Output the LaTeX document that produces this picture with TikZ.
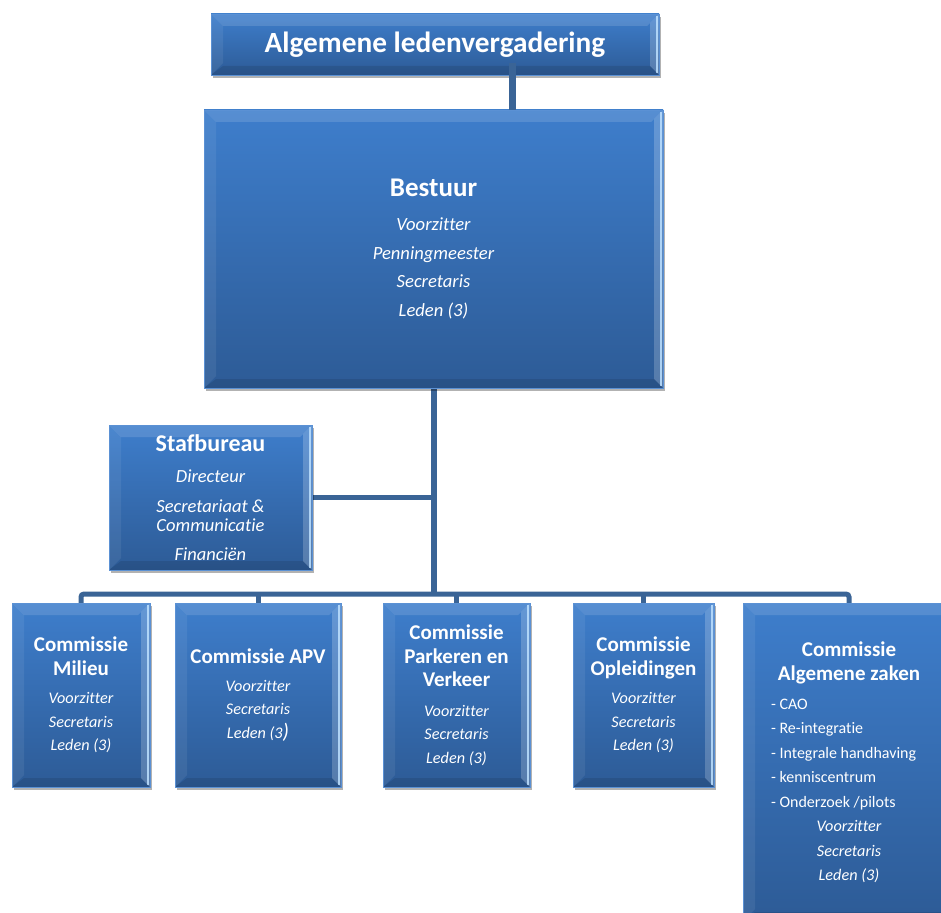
\documentclass[tikz,border=0pt]{standalone}
\usepackage{fontspec}
\setmainfont{Carlito}[Ligatures={NoCommon}]
\usetikzlibrary{shadows,calc,backgrounds}
\definecolor{boxtop}{RGB}{62,126,204}
\definecolor{boxbot}{RGB}{45,91,150}
\definecolor{conncol}{RGB}{58,100,150}
\definecolor{edgelight}{RGB}{190,225,255}
\tikzset{
  bevel/.style={path picture={
    \coordinate (q1) at (path picture bounding box.north west);
    \coordinate (q2) at (path picture bounding box.north east);
    \coordinate (q3) at (path picture bounding box.south east);
    \coordinate (q4) at (path picture bounding box.south west);
    \fill[white,opacity=0.13] (q1) -- (q2) -- ([shift={(-12pt,-12pt)}]q2) -- ([shift={(12pt,-12pt)}]q1) -- cycle;
    \fill[white,opacity=0.07] (q1) -- ([shift={(12pt,-12pt)}]q1) -- ([shift={(12pt,12pt)}]q4) -- (q4) -- cycle;
    \fill[white,opacity=0.2] (q2) -- (q3) -- ([shift={(-9pt,9pt)}]q3) -- ([shift={(-9pt,-9pt)}]q2) -- cycle;
    \fill[edgelight,opacity=0.85] ([xshift=-3.5pt,yshift=-2pt]q2) rectangle ([xshift=-1.2pt,yshift=2pt]q3);
    \fill[black,opacity=0.1] (q4) -- (q3) -- ([shift={(-9pt,9pt)}]q3) -- ([shift={(12pt,9pt)}]q4) -- cycle;
  }},
  orgbox/.style={rectangle, inner sep=0pt, align=center, text=white,
    top color=boxtop, bottom color=boxbot, draw=boxtop!85!white, line width=0.5pt,
    drop shadow={shadow xshift=2pt, shadow yshift=-3pt, opacity=0.3, fill=black},
    bevel},
  combox/.style={orgbox, minimum height=184pt, font=\fontsize{16.2}{23.5}\selectfont\itshape},
  connline/.style={draw=conncol, line width=5pt},
}
\newcommand{\hdA}[1]{{\fontsize{21}{24}\selectfont\bfseries\upshape #1}}
\begin{document}
\begin{tikzpicture}[x=1pt,y=-1pt]
\useasboundingbox (0,0) rectangle (941,912);

\coordinate (bus) at (0,594);
\coordinate (tx) at (512,0);

% ---------- nodes
\node[orgbox, minimum width=448pt, minimum height=61pt] (alv) at (435,44.5)
  {\fontsize{29.3}{30}\selectfont\bfseries Algemene ledenvergadering};

\node[orgbox, minimum width=459pt, minimum height=278pt, font=\fontsize{18.6}{28.5}\selectfont\itshape] (bestuur) at (433.5,249)
  {{\fontsize{27}{30}\selectfont\bfseries\upshape Bestuur}\\[6pt]
   Voorzitter\\ Penningmeester\\ Secretaris\\ Leden (3)};

\node[orgbox, minimum width=203pt, minimum height=145pt, font=\fontsize{18.5}{19.5}\selectfont\itshape] (staf) at (210.5,497.5)
  {{\fontsize{24}{26}\selectfont\bfseries\upshape Stafbureau}\\[12pt]
   Directeur\\[10pt] Secretariaat \&\\ Communicatie\\[9pt] Financiën};

\node[combox, minimum width=138pt] (milieu) at (81,695)
  {\hdA{Commissie}\\ \hdA{Milieu}\\[5pt] Voorzitter\\ Secretaris\\ Leden (3)};

\node[combox, minimum width=166pt] (apv) at (258,695)
  {\hdA{Commissie APV}\\[4pt] Voorzitter\\ Secretaris\\ Leden (3{\fontsize{21}{24}\selectfont )}};

\node[combox, minimum width=147pt] (park) at (456.5,695)
  {\hdA{Commissie}\\ \hdA{Parkeren en}\\ \hdA{Verkeer}\\[6pt] Voorzitter\\ Secretaris\\ Leden (3)};

\node[combox, minimum width=141pt] (opl) at (643.5,695)
  {\hdA{Commissie}\\ \hdA{Opleidingen}\\[5pt] Voorzitter\\ Secretaris\\ Leden (3)};

\node[orgbox, minimum width=212pt, minimum height=318pt, font=\fontsize{16.2}{24.5}\selectfont\itshape] (alg) at (849,762)
  {\hdA{Commissie}\\ \hdA{Algemene zaken}\\[4pt]
   \makebox[156pt][l]{\upshape\fontsize{16}{24}\selectfont - CAO}\\
   \makebox[156pt][l]{\upshape\fontsize{16}{24}\selectfont - Re-integratie}\\
   \makebox[156pt][l]{\upshape\fontsize{16}{24}\selectfont - Integrale handhaving}\\
   \makebox[156pt][l]{\upshape\fontsize{16}{24}\selectfont - kenniscentrum}\\
   \makebox[156pt][l]{\upshape\fontsize{16}{24}\selectfont - Onderzoek /pilots}\\
   Voorzitter\\ Secretaris\\ Leden (3)};

% ---------- connectors
\begin{scope}[on background layer]
\fill[white] (0,0) rectangle (941,912);
\draw[connline, line width=6pt] (bestuur.south) -- (bestuur.south |- bus);
\draw[connline] (staf.east) -- (staf.east -| bestuur.south);
\draw[connline, rounded corners=3pt] (milieu.north) -- (milieu.north |- bus) -- (alg.north |- bus) -- (alg.north);
\draw[connline] (apv.north) -- (apv.north |- bus);
\draw[connline] (park.north) -- (park.north |- bus);
\draw[connline] (opl.north) -- (opl.north |- bus);
\end{scope}
\draw[connline, line width=7pt] ($(tx |- alv.south)+(0,-12)$) -- (tx |- bestuur.north);
\end{tikzpicture}
\end{document}
